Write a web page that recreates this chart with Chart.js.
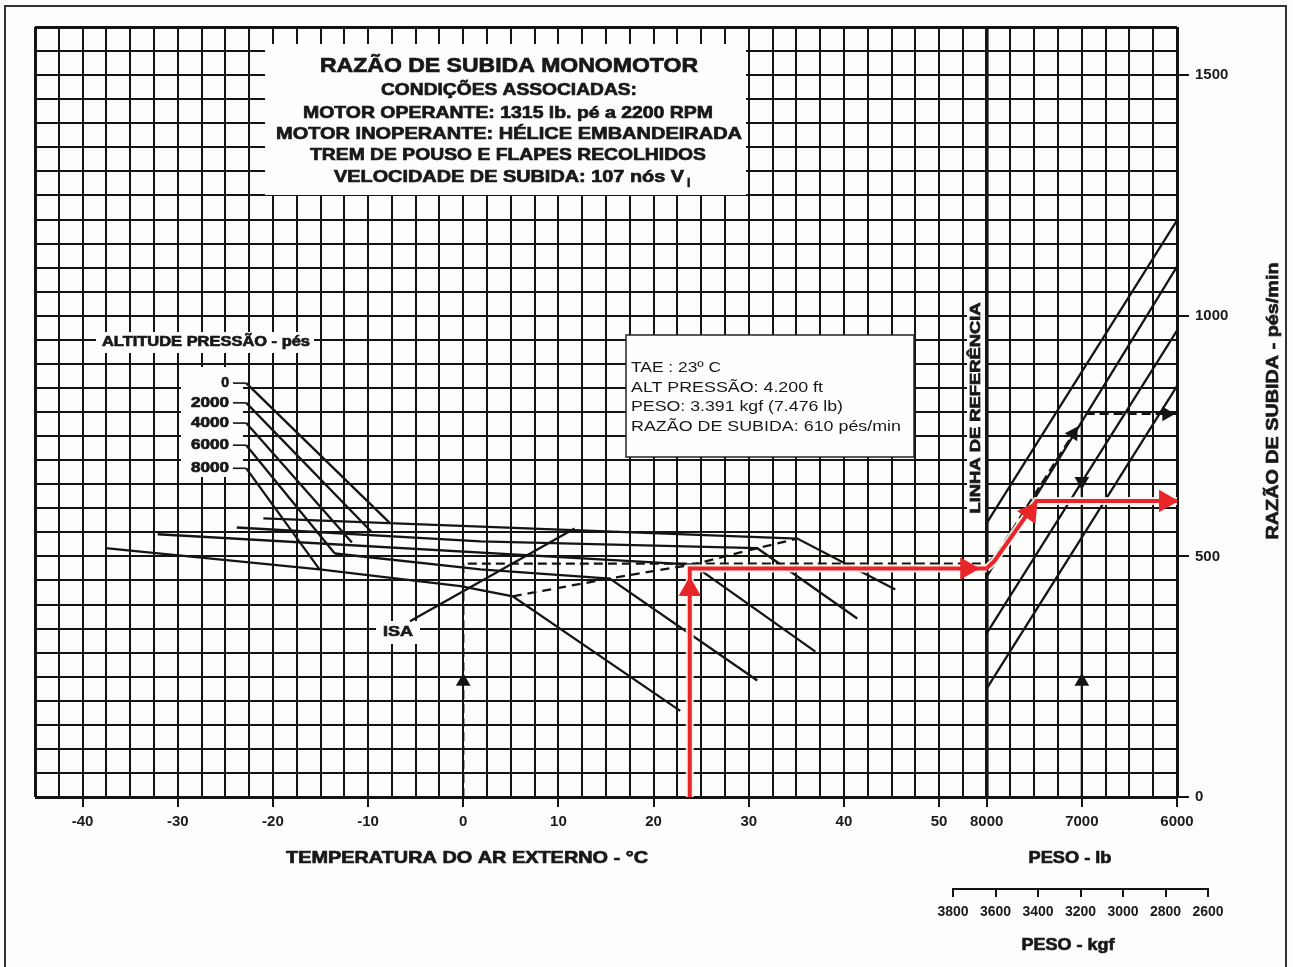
<!DOCTYPE html>
<html>
<head>
<meta charset="utf-8">
<script src="https://cdn.jsdelivr.net/npm/chart.js@4.4.1/dist/chart.umd.min.js"></script>
<style>
  html, body { margin: 0; padding: 0; background: #fdfdfb; }
  #wrap { position: relative; width: 1293px; height: 967px; overflow: hidden; }
  #main { position: absolute; left: 0; top: 0; }
  #kgf { position: absolute; left: 930px; top: 880px; }
</style>
</head>
<body>
<div id="wrap">
  <canvas id="main" width="1293" height="967"></canvas>
  <canvas id="kgf" width="320" height="60"></canvas>
</div>
<script>
// ---- tick labels ----
const tempTicks = [-40, -30, -20, -10, 0, 10, 20, 30, 40, 50];
const weightTicksLb = [8000, 7000, 6000];
const rateTicks = [0, 500, 1000, 1500];
const weightTicksKgf = [3800, 3600, 3400, 3200, 3000, 2800, 2600];
const altitudeLabels = ['0', '2000', '4000', '6000', '8000'];

// ---- diagonals leaving the altitude labels (°C, pés/min) ----
const diagStartTemp = -22.8;
const labelTickTemp = -24.2;
const diagStartRate = [860, 819, 777, 731, 683];
const diagEndTemp = [-7.7, -9.6, -11.7, -13.5, -15.1];
const diagEndRate = [569, 550, 529, 506, 473];

// ---- pressure altitude curves ----
const curve0Temp = [-21.0, 35.1, 45.4];
const curve0Rate = [579, 537, 431];
const curve2Temp = [-23.8, 1.8, 30.9, 41.4];
const curve2Rate = [560, 531, 517, 371];
const curve4Temp = [-32.1, 24.1, 37.0];
const curve4Rate = [546, 483, 302];
const curve6Temp = [-13.5, 1.8, 15.4, 30.9];
const curve6Rate = [506, 473, 454, 242];
const curve8Temp = [-37.6, -15.1, -0.3, 5.2, 22.8];
const curve8Rate = [517, 473, 438, 417, 179];

// dashed line through the knees, ISA line
const kneeTemp = [5.2, 15.4, 24.1, 30.9, 35.1];
const kneeRate = [417, 454, 483, 517, 537];
const isaTemp = [-5.6, 11.7];
const isaRate = [365, 558];

// ---- weight guide lines: rate at 8000 lb and at 6000 lb ----
const guideRateAt8000 = [569, 458, 340, 225];
const guideRateAt6000 = [1198, 1102, 969, 854];

// ---- dashed black example ----
const exTemp = [0, 0, 55];
const exTempRate = [0, 485, 485];
const exWeightLb = [8000, 7900, 7080];
const exWeightRate = [485, 503, 758];
const exTopLb = [6960, 6000];
const exTopRate = [796, 796];
const ex7000Lb = [7000, 7000];
const ex7000Rate = [0, 796];
const blackArrowTemp = [0];
const blackArrowTempRate = [240];
const blackArrowLb = [7000, 7000, 7090, 6110];
const blackArrowLbRate = [240, 656, 755, 796];

// ---- red example (23 °C, 4200 ft, 7476 lb -> 610 pés/min) ----
const redTemp = [23.8, 23.8, 55];
const redTempRate = [0, 475, 475];
const redWeightLb = [8000, 7920, 7476, 6000];
const redWeightRate = [475, 490, 615, 615];
const redArrowTemp = [23.8, 52.9];
const redArrowTempRate = [431, 475];
const redArrowLb = [7545, 6120];
const redArrowLbRate = [592, 615];

// weight panel shares the x axis: 8000 lb sits at 55, 6000 lb at 75
const wx = lb => 55 + (8000 - lb) / 100;
const pts = (xs, ys) => xs.map((x, i) => ({ x: x, y: ys[i] }));
const lbPts = (ls, ys) => ls.map((l, i) => ({ x: wx(l), y: ys[i] }));

const INK = '#141414';
const RED = '#e8262a';
const FONT = '"Liberation Sans", Arial, sans-serif';

function line(data, extra) {
    return Object.assign({
        data: data, showLine: true, borderColor: INK, borderWidth: 2.3,
        pointRadius: 0, fill: false, tension: 0
    }, extra || {});
}

function arrows(data, color, radius, rotation) {
    return {
        data: data, showLine: false, pointStyle: 'triangle', pointRadius: radius,
        pointBackgroundColor: color, pointBorderColor: color, pointBorderWidth: 0,
        pointRotation: rotation, clip: 20
    };
}

// pushed bottom-to-top, reversed at the end (Chart.js paints dataset 0 last)
const datasets = [];
diagStartRate.forEach((r, i) => {
    datasets.push(line([{ x: labelTickTemp, y: r }, { x: diagStartTemp, y: r }], { borderWidth: 1.6 }));
    datasets.push(line([{ x: diagStartTemp, y: r }, { x: diagEndTemp[i], y: diagEndRate[i] }]));
});
datasets.push(line(pts(curve0Temp, curve0Rate)));
datasets.push(line(pts(curve2Temp, curve2Rate)));
datasets.push(line(pts(curve4Temp, curve4Rate)));
datasets.push(line(pts(curve6Temp, curve6Rate)));
datasets.push(line(pts(curve8Temp, curve8Rate)));
datasets.push(line(pts(kneeTemp, kneeRate), { borderDash: [9, 6] }));
datasets.push(line(pts(isaTemp, isaRate)));
guideRateAt8000.forEach((r, i) => {
    datasets.push(line([{ x: wx(8000), y: r }, { x: wx(6000), y: guideRateAt6000[i] }]));
});
datasets.push(line(pts(exTemp, exTempRate), { borderDash: [9, 5] }));
datasets.push(line(lbPts(exWeightLb, exWeightRate), { borderDash: [9, 5] }));
datasets.push(line(lbPts(exTopLb, exTopRate), { borderDash: [9, 5] }));
datasets.push(line(lbPts(ex7000Lb, ex7000Rate)));
datasets.push(arrows(pts(blackArrowTemp, blackArrowTempRate), INK, 8.5, [0]));
datasets.push(arrows(lbPts(blackArrowLb, blackArrowLbRate), INK, 8.5, [0, 180, 32, 90]));
// red path with a pale halo like the reference
datasets.push(line(pts(redTemp, redTempRate), { borderColor: 'rgba(255,244,240,0.9)', borderWidth: 8 }));
datasets.push(line(lbPts(redWeightLb, redWeightRate), { borderColor: 'rgba(255,244,240,0.9)', borderWidth: 8 }));
datasets.push(line(pts(redTemp, redTempRate), { borderColor: RED, borderWidth: 4 }));
datasets.push(line(lbPts(redWeightLb, redWeightRate), { borderColor: RED, borderWidth: 4 }));
datasets.push(arrows(pts(redArrowTemp, redArrowTempRate), RED, 13, [0, 90]));
datasets.push(arrows(lbPts(redArrowLb, redArrowLbRate), RED, 13, [35, 90]));
datasets.reverse();

function fitText(ctx, text, x, y, size, width, opt) {
    opt = opt || {};
    ctx.save();
    ctx.font = (opt.normal ? '' : 'bold ') + size + 'px ' + FONT;
    const w = ctx.measureText(text).width;
    ctx.translate(x, y);
    if (opt.rotate) ctx.rotate(opt.rotate);
    ctx.scale(width ? width / w : 1, 1);
    ctx.textAlign = opt.align || 'center';
    ctx.textBaseline = 'middle';
    ctx.fillStyle = '#181818';
    ctx.fillText(text, 0, 0);
    if (!opt.normal) {
        ctx.strokeStyle = '#181818';
        ctx.lineWidth = 0.7;
        ctx.strokeText(text, 0, 0);
    }
    ctx.restore();
}

const paperPlugin = {
    id: 'paper',
    beforeDraw(chart) {
        const ctx = chart.ctx;
        ctx.save();
        ctx.fillStyle = '#fdfdfb';
        ctx.fillRect(0, 0, chart.width, chart.height);
        ctx.strokeStyle = '#333';
        ctx.lineWidth = 2;
        ctx.strokeRect(5, 6, 1281, 980);
        ctx.restore();
    },
    beforeDatasetsDraw(chart) {
        const ctx = chart.ctx;
        ctx.save();
        ctx.fillStyle = '#fdfdfb';
        ctx.fillRect(265, 44, 481, 151);   // title block
        ctx.fillRect(96, 332, 218, 21);    // ALTITUDE PRESSÃO
        ctx.fillRect(181, 367, 62, 110);   // altitude labels
        ctx.fillRect(376, 621, 44, 23);    // ISA
        ctx.fillRect(967, 300, 18, 216);   // LINHA DE REFERÊNCIA
        ctx.restore();
    },
    afterDraw(chart) {
        const ctx = chart.ctx;
        const ys = chart.scales.y;
        // info box
        ctx.save();
        ctx.fillStyle = '#fefefe';
        ctx.fillRect(626, 335, 288, 122);
        ctx.strokeStyle = '#222';
        ctx.lineWidth = 1.5;
        ctx.strokeRect(626, 335, 288, 122);
        ctx.restore();
        fitText(ctx, 'TAE : 23º C', 631, 368, 15, 90, { align: 'left', normal: true });
        fitText(ctx, 'ALT PRESSÃO: 4.200 ft', 631, 388, 15, 192, { align: 'left', normal: true });
        fitText(ctx, 'PESO: 3.391 kgf (7.476 lb)', 631, 407, 15, 212, { align: 'left', normal: true });
        fitText(ctx, 'RAZÃO DE SUBIDA: 610 pés/min', 631, 427, 15, 270, { align: 'left', normal: true });

        // title block
        fitText(ctx, 'RAZÃO DE SUBIDA MONOMOTOR', 509, 66, 20, 378);
        fitText(ctx, 'CONDIÇÕES ASSOCIADAS:', 509, 90, 17, 256);
        fitText(ctx, 'MOTOR OPERANTE: 1315 lb. pé a 2200 RPM', 508, 113, 17, 410);
        fitText(ctx, 'MOTOR INOPERANTE: HÉLICE EMBANDEIRADA', 509, 134, 17, 466);
        fitText(ctx, 'TREM DE POUSO E FLAPES RECOLHIDOS', 508, 155, 17, 396);
        fitText(ctx, 'VELOCIDADE DE SUBIDA: 107 nós V', 334, 177, 17, 350, { align: 'left' });
        fitText(ctx, 'i', 687, 184, 12, 0, { align: 'left' });

        // altitude labels
        fitText(ctx, 'ALTITUDE PRESSÃO - pés', 102, 342, 14, 208, { align: 'left' });
        altitudeLabels.forEach((t, i) => {
            fitText(ctx, t, 229, ys.getPixelForValue(diagStartRate[i]), 14, t.length > 1 ? 38 : 0, { align: 'right' });
        });
        fitText(ctx, 'ISA', 398, 632, 15, 30);
        fitText(ctx, 'LINHA DE REFERÊNCIA', 976, 408, 15, 211, { rotate: -Math.PI / 2 });
        fitText(ctx, 'RAZÃO DE SUBIDA - pés/min', 1273, 401, 17, 277, { rotate: -Math.PI / 2 });

        // axis titles
        fitText(ctx, 'TEMPERATURA DO AR EXTERNO - °C', 467, 858, 17, 362);
        fitText(ctx, 'PESO - lb', 1070, 858, 17, 83);
        fitText(ctx, 'PESO - kgf', 1068, 945, 17, 93);
    }
};

const gridEvery = (min, max, step) => {
    const out = [];
    for (let v = min; v <= max + 1e-9; v += step) out.push({ value: Math.round(v * 100) / 100 });
    return out;
};
const tickFont = { family: FONT, size: 15, weight: 'bold' };

new Chart(document.getElementById('main'), {
    type: 'scatter',
    data: { datasets: datasets },
    options: {
        responsive: false,
        animation: false,
        layout: { padding: { left: 35, top: 27, right: 0, bottom: 0 } },
        plugins: { legend: { display: false }, tooltip: { enabled: false } },
        scales: {
            x: {
                type: 'linear', min: -45, max: 75, position: 'bottom',
                afterBuildTicks: s => { s.ticks = gridEvery(-45, 75, 2.5); },
                afterFit: s => { s.height = 0; },
                ticks: { display: false },
                border: { display: false },
                grid: {
                    color: INK, drawTicks: false,
                    lineWidth: c => (c.tick.value === 55 ? 3.6 : (c.tick.value === -45 || c.tick.value === 75 ? 3 : 2))
                }
            },
            xl: {
                type: 'linear', min: -45, max: 75, position: 'bottom',
                afterBuildTicks: s => {
                    s.ticks = tempTicks.map(v => ({ value: v })).concat(weightTicksLb.map(l => ({ value: wx(l) })));
                },
                afterFit: s => { s.height = 170; },
                ticks: {
                    autoSkip: false, maxRotation: 0, padding: 6, color: '#1a1a1a', font: tickFont,
                    callback: v => (v <= 50 ? String(v) : String(Math.round(8000 - (v - 55) * 100)))
                },
                border: { display: false },
                grid: { drawOnChartArea: false, tickLength: 10, color: INK, lineWidth: 2 }
            },
            y: {
                type: 'linear', min: 0, max: 1600, position: 'left',
                afterBuildTicks: s => { s.ticks = gridEvery(0, 1600, 50); },
                afterFit: s => { s.width = 0; },
                ticks: { display: false },
                border: { display: false },
                grid: {
                    color: INK, drawTicks: false,
                    lineWidth: c => (c.tick.value === 0 || c.tick.value === 1600 ? 3 : 2)
                }
            },
            yr: {
                type: 'linear', min: 0, max: 1600, position: 'right',
                afterBuildTicks: s => { s.ticks = rateTicks.map(v => ({ value: v })); },
                afterFit: s => { s.width = 116; },
                ticks: { padding: 6, color: '#1a1a1a', font: tickFont, callback: v => String(v) },
                border: { display: false },
                grid: { drawOnChartArea: false, tickLength: 12, color: INK, lineWidth: 2 }
            }
        }
    },
    plugins: [paperPlugin]
});

// separate kgf scale under the weight panel
new Chart(document.getElementById('kgf'), {
    type: 'scatter',
    data: { datasets: [] },
    options: {
        responsive: false,
        animation: false,
        layout: { padding: { left: 23, right: 42, top: 8, bottom: 0 } },
        plugins: { legend: { display: false }, tooltip: { enabled: false } },
        scales: {
            y: { display: false },
            x: {
                type: 'linear', min: 2600, max: 3800, reverse: true, position: 'bottom',
                afterBuildTicks: s => { s.ticks = weightTicksKgf.map(v => ({ value: v })); },
                afterFit: s => { s.height = 51; },
                ticks: {
                    autoSkip: false, maxRotation: 0, padding: 7, color: '#1a1a1a',
                    font: { family: FONT, size: 14, weight: 'bold' }, callback: v => String(v)
                },
                border: { display: true, color: INK, width: 2 },
                grid: { drawOnChartArea: false, tickLength: 8, color: INK, lineWidth: 2 }
            }
        }
    }
});
</script>
</body>
</html>
